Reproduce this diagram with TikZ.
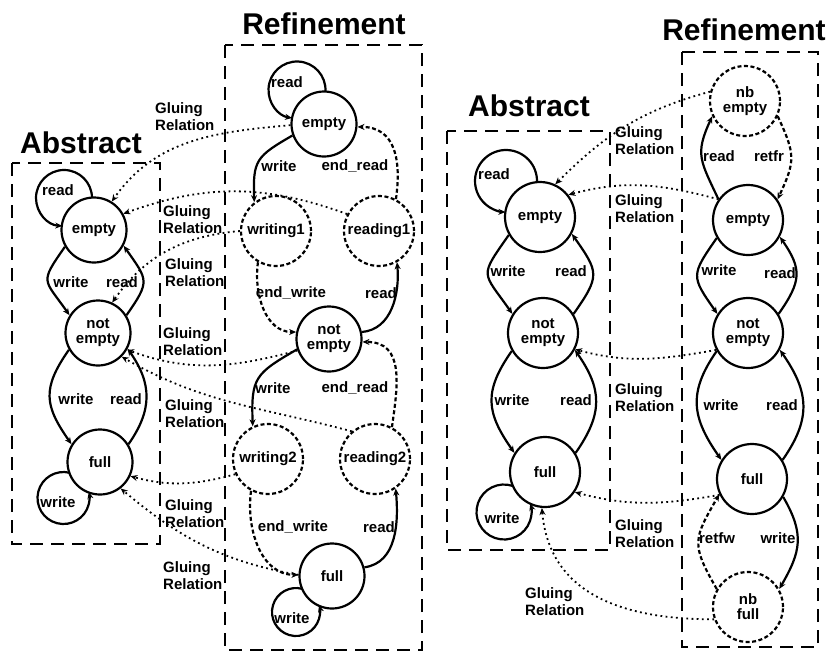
\documentclass[tikz,border=0pt]{standalone}
\usepackage{fontspec}
\setmainfont{Liberation Sans}
\usepackage{tikz}
\usetikzlibrary{arrows.meta, positioning, calc}

\begin{document}
\begin{tikzpicture}[>={Stealth[length=7pt,width=6pt]}, x=1pt, y=1pt,
            font=\bfseries\fontsize{15}{15}\selectfont,
            state/.style={draw, circle, line width=2.2pt, minimum size=65pt, inner sep=0pt, align=center},
            bstate/.style={state, minimum size=70pt},
            tstate/.style={state, minimum size=70pt, dash pattern=on 4pt off 2.5pt},
            trans/.style={->, line width=2.2pt},
            ttrans/.style={trans, dash pattern=on 4pt off 2.5pt},
            glue/.style={->, line width=1.8pt, dash pattern=on 1.8pt off 3.4pt},
            dbox/.style={line width=2.6pt, dash pattern=on 13pt off 8pt},
            lbl/.style={inner sep=0pt},
            glbl/.style={anchor=west, align=left, inner sep=0pt, font=\bfseries\fontsize{15}{17}\selectfont},
            ttl/.style={inner sep=0pt, font=\bfseries\fontsize{30}{30}\selectfont}]

            \useasboundingbox (0,0) rectangle (829,-656);

            % ===== frames and titles =====
            \draw[dbox] (12,-163) rectangle (160,-544);
            \draw[dbox] (225,-45) rectangle (422,-650);
            \draw[dbox] (447,-131) rectangle (610,-550);
            \draw[dbox] (682,-52) rectangle (818,-647);
            \node[ttl] (tA1) at (81,-143) {Abstract};
            \node[ttl] (tR1) at (324,-24) {Refinement};
            \node[ttl] (tA2) at (529,-106) {Abstract};
            \node[ttl] (tR2) at (744,-30) {Refinement};

            % ===== states =====
            \node[state] (eA) at (94,-230) {empty};
            \node[state] (nA) at (98,-333) {not\\empty};
            \node[state] (fA) at (100,-462) {full};

            \node[state] (eR) at (324,-124) {empty};
            \node[tstate] (w1) at (276,-231) {writing1};
            \node[tstate] (r1) at (379,-231) {reading1};
            \node[state] (nR) at (329,-339) {not\\empty};
            \node[tstate] (w2) at (268,-459) {writing2};
            \node[tstate] (r2) at (375,-459) {reading2};
            \node[state] (fR) at (332,-576) {full};

            \node[bstate] (eA2) at (540,-217) {empty};
            \node[bstate] (nA2) at (543,-333) {not\\empty};
            \node[bstate] (fA2) at (545,-472) {full};

            \node[tstate] (nbE) at (745,-101) {nb\\empty};
            \node[bstate] (eR2) at (748,-220) {empty};
            \node[bstate] (nR2) at (748,-333) {not\\empty};
            \node[bstate] (fR2) at (752,-479) {full};
            \node[tstate] (nbF) at (748,-607) {nb\\full};

            % ===== self loops =====
            \coordinate (lpA) at (64,-198);
            \coordinate (lpB) at (63.5,-498);
            \coordinate (lpC) at (297,-90);
            \coordinate (lpD) at (296,-612);
            \coordinate (lpE) at (506,-181);
            \coordinate (lpF) at (504,-512);
            \draw[trans] ($(lpA)+(0:28)$) arc[start angle=0, end angle=266.5, radius=28];
            \draw[trans] ($(lpB)+(75.7:26)$) arc[start angle=75.7, end angle=373.5, radius=26];
            \draw[trans] ($(lpC)+(-3:28.5)$) arc[start angle=-3, end angle=260, radius=28.5];
            \draw[trans] ($(lpD)+(73.6:24)$) arc[start angle=73.6, end angle=376.4, radius=24];
            \draw[trans] ($(lpE)+(-2:31)$) arc[start angle=-2, end angle=268.8, radius=31];
            \draw[trans] ($(lpF)+(71:27.5)$) arc[start angle=71, end angle=377.6, radius=27.5];
            \node[lbl] (lrA) at (58,-190) {read};
            \node[lbl] (lwA) at (58,-502) {write};
            \node[lbl] (lrR) at (287,-82) {read};
            \node[lbl] (lwR) at (292,-618) {write};
            \node[lbl] (lrA2) at (494,-174) {read};
            \node[lbl] (lwA2) at (502,-518) {write};

            % ===== abstract (left) =====
            \draw[trans] (eA.210) to[out=235, in=125, looseness=1.68] (nA.148);
            \draw[trans] (nA.32) to[out=55, in=-55, looseness=1.55] (eA.-28);
            \draw[trans] (nA.210) to[out=235, in=125, looseness=1.28] (fA.148);
            \draw[trans] (fA.32) to[out=55, in=-55, looseness=1.13] (nA.-28);
            \node[lbl] (a1w) at (71,-282) {write};
            \node[lbl] (a1r) at (122,-282) {read};
            \node[lbl] (a2w) at (76,-399) {write};
            \node[lbl] (a2r) at (126,-399) {read};

            % ===== refinement (left) =====
            \draw[trans] (eR.200) to[out=210, in=92, looseness=1.4] (w1.127);
            \draw[ttrans] (r1.62) to[out=82, in=0, looseness=1.2] (eR.-5);
            \draw[ttrans] (w1.240) to[out=262, in=180] (nR.168);
            \draw[trans] (nR.12) to[out=5, in=-85] (r1.-60);
            \draw[trans] (nR.198) to[out=210, in=92, looseness=1.4] (w2.115);
            \draw[ttrans] (r2.62) to[out=82, in=0, looseness=1.2] (nR.-5);
            \draw[ttrans] (w2.242) to[out=262, in=180] (fR.178);
            \draw[trans] (fR.15) to[out=8, in=-85] (r2.-55);
            \node[lbl] (b1w) at (279,-166) {write};
            \node[lbl] (b1e) at (355,-166) {end\_read};
            \node[lbl] (b2e) at (291,-293) {end\_write};
            \node[lbl] (b2r) at (381,-293) {read};
            \node[lbl] (b3w) at (273,-388) {write};
            \node[lbl] (b3e) at (355,-388) {end\_read};
            \node[lbl] (b4e) at (293,-527) {end\_write};
            \node[lbl] (b4r) at (379,-527) {read};

            % ===== abstract (right) =====
            \draw[trans] (eA2.210) to[out=235, in=125, looseness=1.7] (nA2.148);
            \draw[trans] (nA2.32) to[out=55, in=-55, looseness=1.5] (eA2.-28);
            \draw[trans] (nA2.210) to[out=235, in=125, looseness=1.24] (fA2.148);
            \draw[trans] (fA2.32) to[out=55, in=-55, looseness=1.19] (nA2.-28);
            \node[lbl] (c1w) at (508,-271) {write};
            \node[lbl] (c1r) at (571,-271) {read};
            \node[lbl] (c2w) at (512,-400) {write};
            \node[lbl] (c2r) at (576,-400) {read};

            % ===== refinement (right) =====
            \draw[trans] (eR2.145) to[out=115, in=245, looseness=1.3] (nbE.205);
            \draw[ttrans] (nbE.-25) to[out=-65, in=65, looseness=1.3] (eR2.35);
            \draw[trans] (eR2.210) to[out=235, in=125, looseness=1.54] (nR2.148);
            \draw[trans] (nR2.32) to[out=55, in=-55, looseness=1.31] (eR2.-28);
            \draw[trans] (nR2.210) to[out=235, in=125, looseness=1.2] (fR2.148);
            \draw[trans] (fR2.32) to[out=55, in=-55, looseness=1.18] (nR2.-28);
            \draw[trans] (fR2.-30) to[out=-60, in=60, looseness=1.2] (nbF.30);
            \draw[ttrans] (nbF.150) to[out=120, in=240, looseness=1.4] (fR2.205);
            \node[lbl] (d1r) at (719,-156) {read};
            \node[lbl] (d1f) at (769,-156) {retfr};
            \node[lbl] (d2w) at (719,-270) {write};
            \node[lbl] (d2r) at (780,-273) {read};
            \node[lbl] (d3w) at (721,-405) {write};
            \node[lbl] (d3r) at (782,-405) {read};
            \node[lbl] (d4f) at (717,-538) {retfw};
            \node[lbl] (d4w) at (778,-538) {write};

            % ===== gluing relations (left) =====
            \draw[glue] (eR.182) to[out=185, in=55] (eA.58);
            \draw[glue] (r1.152) to[out=160, in=20] (eA.29);
            \draw[glue] (w1.180) to[out=185, in=55] (nA.65);
            \draw[glue] (nR.200) to[out=195, in=-20] (nA.-30);
            \draw[glue] (r2.130) to[out=165, in=-30] (nA.-45);
            \draw[glue] (w2.205) to[out=195, in=-15] (fA.-25);
            \draw[glue] (fR.178) to[out=170, in=-40] (fA.-52);
            \node[glbl] (g1) at (155,-117) {Gluing\\Relation};
            \node[glbl] (g2) at (163,-220) {Gluing\\Relation};
            \node[glbl] (g3) at (165,-273) {Gluing\\Relation};
            \node[glbl] (g4) at (163,-342) {Gluing\\Relation};
            \node[glbl] (g5) at (165,-414) {Gluing\\Relation};
            \node[glbl] (g6) at (165,-514) {Gluing\\Relation};
            \node[glbl] (g7) at (163,-576) {Gluing\\Relation};

            % ===== gluing relations (right) =====
            \draw[glue] (nbE.165) to[out=195, in=45] (eA2.65);
            \draw[glue] (eR2.145) to[out=165, in=15] (eA2.38);
            \draw[glue] (nR2.208) to[out=190, in=-15] (nA2.-27);
            \draw[glue] (fR2.206) to[out=190, in=-15] (fA2.-34);
            \draw[glue] (nbF.200) to[out=180, in=-85, looseness=1.1] (fA2.-95);
            \node[glbl] (h1) at (615,-141) {Gluing\\Relation};
            \node[glbl] (h2) at (615,-209) {Gluing\\Relation};
            \node[glbl] (h3) at (615,-398) {Gluing\\Relation};
            \node[glbl] (h4) at (615,-534) {Gluing\\Relation};
            \node[glbl] (h5) at (525,-602) {Gluing\\Relation};
\end{tikzpicture}
\end{document}
